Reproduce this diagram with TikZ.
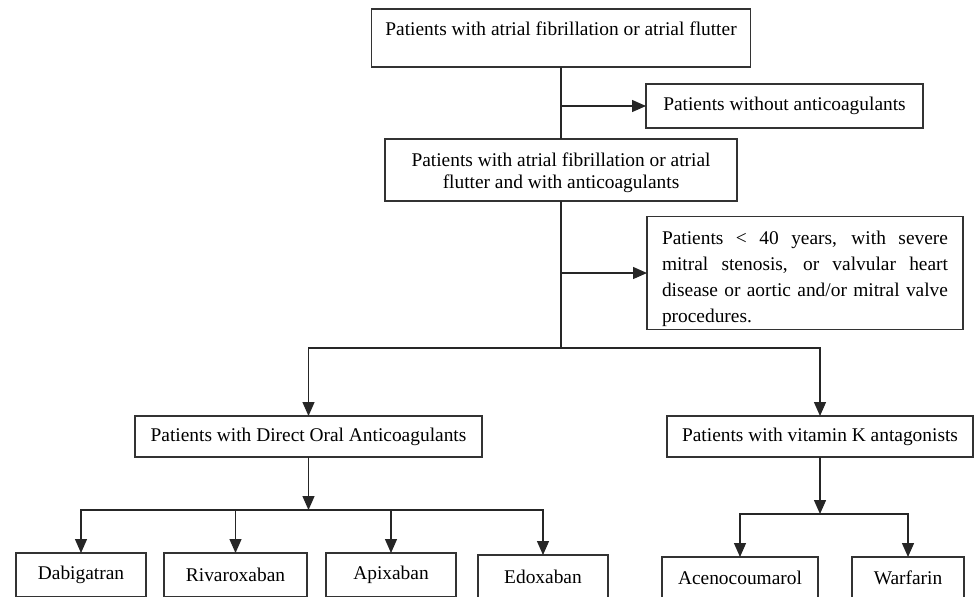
\documentclass[tikz,border=0pt]{standalone}
\usepackage{fontspec}
\setmainfont{Liberation Serif}
\usetikzlibrary{arrows.meta}
\begin{document}
\begin{tikzpicture}[x=0.5pt,y=-0.5pt,
  box/.style={draw=black!80, line width=0.65pt, inner sep=0pt, outer sep=0pt, align=center, font=\fontsize{9.7}{11}\selectfont},
  txt/.style={inner sep=0pt, font=\fontsize{9.7}{11}\selectfont},
  arr/.style={draw=black!85, line width=0.65pt, -{Triangle[length=7pt,width=6pt]}},
  ln/.style={draw=black!85, line width=0.65pt}]
\useasboundingbox (0,0) rectangle (974,596);
\clip (0,0) rectangle (974,596);
\fill[white] (0,0) rectangle (974,596);

% boxes
\node[box, minimum width=189.5pt, minimum height=29pt] (top) at (561,38) {};
\node[txt] (toptext) at (561,29) {Patients with atrial fibrillation or atrial flutter};
\node[box, minimum width=138.5pt, minimum height=22pt] (noanti) at (784.5,106) {Patients without anticoagulants};
\node[box, minimum width=176pt, minimum height=31pt] (withanti) at (561,170) {};
\node[txt, align=center] (withantitext) at (561,173) {Patients with atrial fibrillation or atrial\\ flutter and with anticoagulants};
\node[box, minimum width=158pt, minimum height=56.5pt] (excl) at (805,273) {};
\node[txt, text width=143pt, align=justify, font=\fontsize{9.7}{13}\selectfont] (excltext) at (805,279) {Patients < 40 years, with severe\linebreak mitral stenosis, or valvular heart\linebreak disease or aortic and/or mitral valve\linebreak procedures.};
\node[box, minimum width=173.5pt, minimum height=20.5pt] (doac) at (308.5,436.5) {Patients with Direct Oral Anticoagulants};
\node[box, minimum width=153pt, minimum height=20.5pt] (vka) at (820,436.5) {Patients with vitamin K antagonists};

\node[box, anchor=north, minimum width=65pt, minimum height=22pt] (dabi) at (81,553) {Dabigatran};
\node[box, anchor=north, minimum width=71.5pt, minimum height=22pt] (riva) at (235.5,553) {Rivaroxaban};
\node[box, anchor=north, minimum width=65pt, minimum height=22pt] (apix) at (391,553) {Apixaban};
\node[box, anchor=north, minimum width=65pt, minimum height=22pt] (edox) at (543,555) {Edoxaban};
\node[box, anchor=north, minimum width=78pt, minimum height=21pt] (aceno) at (740,557) {Acenocoumarol};
\node[box, anchor=north, minimum width=56pt, minimum height=21pt] (warf) at (908,557) {Warfarin};

% junctions
\coordinate (j0) at (561,106);
\coordinate (j1) at (561,348);
\coordinate (j2) at (561,273);
\coordinate (d1) at (308.5,510);
\coordinate (v1) at (820,514);

% connectors
\draw[ln] (top.south) -- (withanti.north);
\draw[arr] (j0) -- (noanti.west);
\draw[ln] (withanti.south) -- (j1);
\draw[arr] (j2) -- (excl.west);
\draw[arr] (j1) -| (doac.north);
\draw[arr] (j1) -| (vka.north);
\draw[arr] (doac.south) -- (d1);
\draw[arr] (d1) -| (dabi.north);
\draw[arr] (d1) -| (riva.north);
\draw[arr] (d1) -| (apix.north);
\draw[arr] (d1) -| (edox.north);
\draw[arr] (vka.south) -- (v1);
\draw[arr] (v1) -| (aceno.north);
\draw[arr] (v1) -| (warf.north);
\end{tikzpicture}
\end{document}
